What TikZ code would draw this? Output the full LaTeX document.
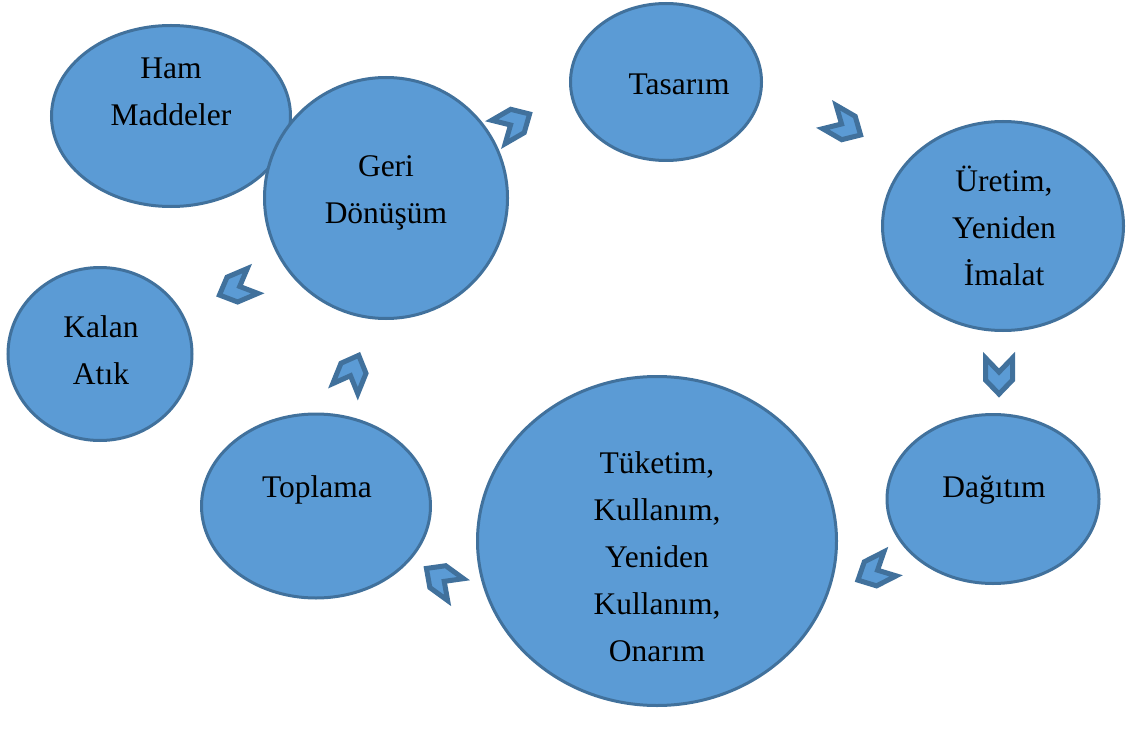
\documentclass[tikz,border=0pt]{standalone}
\usepackage{fontspec}
\setmainfont{Liberation Serif}
\usetikzlibrary{shapes.geometric}
\definecolor{fillblue}{HTML}{5B9BD5}
\definecolor{edgeblue}{HTML}{41719C}
\begin{document}
\begin{tikzpicture}[x=1pt,y=-1pt,
  bubble/.style={ellipse,draw=edgeblue,fill=fillblue,line width=3pt,inner sep=0pt},
  txt/.style={align=center,inner sep=0pt,font=\fontsize{31.5}{47}\selectfont},
  chev/.style={draw=edgeblue,fill=fillblue,line width=5pt,line join=miter,miter limit=3}]
\useasboundingbox (0,0) rectangle (1134,738);
\newcommand{\chevron}[3]{%
  \draw[chev,shift={(#1,#2)},rotate=#3] (-18,13.5) -- (4,13.5) -- (18,0) -- (4,-13.5) -- (-18,-13.5) -- (-4,0) -- cycle;}
% ellipses
\node[bubble,minimum width=239pt,minimum height=181pt] (ham) at (171,116) {};
\node[bubble,minimum width=243pt,minimum height=241pt] (geri) at (386,198) {};
\node[bubble,minimum width=191pt,minimum height=157pt] (tas) at (666,82) {};
\node[bubble,minimum width=241pt,minimum height=209pt] (ure) at (1003,226) {};
\node[bubble,minimum width=212pt,minimum height=169pt] (dag) at (993,499) {};
\node[bubble,minimum width=359pt,minimum height=329pt] (tuk) at (657,541) {};
\node[bubble,minimum width=229pt,minimum height=184pt] (top) at (316,506) {};
\node[bubble,minimum width=184pt,minimum height=173pt] (kal) at (100,354) {};
% texts
\node[txt] (tham) at (171,92) {Ham\\Maddeler};
\node[txt] (tgeri) at (386,193) {Geri\\Dönüşüm};
\node[txt] (ttas) at (679,84) {Tasarım};
\node[txt] (ture) at (1004,226) {Üretim,\\Yeniden\\İmalat};
\node[txt] (tdag) at (994,490) {Dağıtım};
\node[txt] (ttuk) at (657,557) {Tüketim,\\Kullanım,\\Yeniden\\Kullanım,\\Onarım};
\node[txt] (ttop) at (317,490) {Toplama};
\node[txt] (tkal) at (101,350) {Kalan\\Atık};
% chevrons
\chevron{514}{123}{30}
\chevron{845}{126}{-30}
\chevron{999}{376}{-90}
\chevron{874}{572}{-153}
\chevron{441}{579}{144}
\chevron{352}{372}{68}
\chevron{236}{288}{203}
\end{tikzpicture}
\end{document}
